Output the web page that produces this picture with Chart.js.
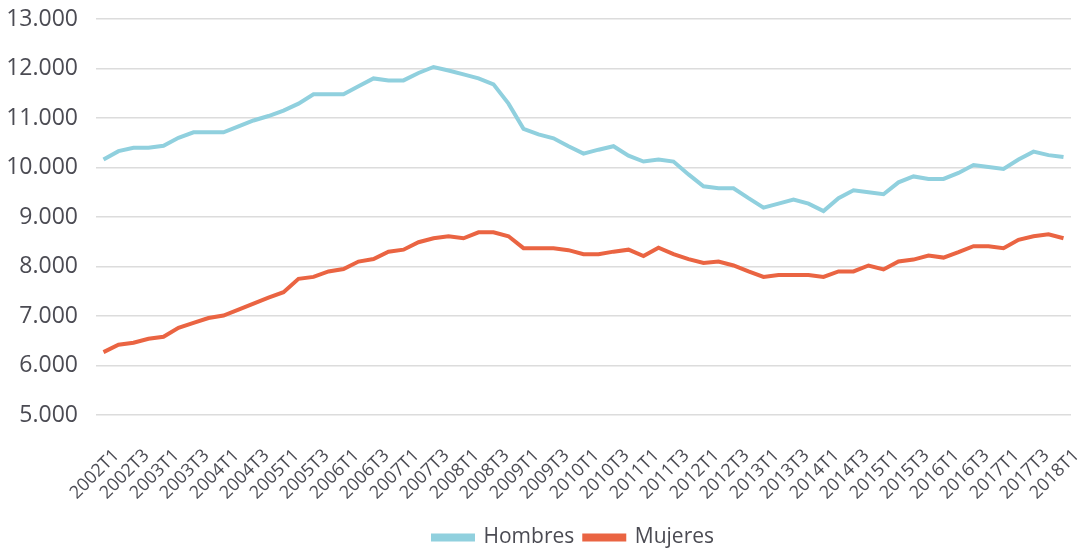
<!DOCTYPE html>
<html>
<head>
<meta charset="utf-8">
<script src="https://cdn.jsdelivr.net/npm/chart.js@4/dist/chart.umd.min.js"></script>
<style>
  html, body { margin: 0; padding: 0; background: #fff; overflow: hidden; }
  #wrap { width: 1085px; height: 558px; position: relative; }
</style>
</head>
<body>
<div id="wrap"><canvas id="lineChart"></canvas></div>
<script>
// Quarters 2002T1 .. 2018T1
const quarters = [];
for (let y = 2002; y <= 2018; y++) {
    for (let q = 1; q <= 4; q++) {
        if (y === 2018 && q > 1) break;
        quarters.push(y + "T" + q);
    }
}

const hombres = [
    10160, 10330, 10400, 10400, 10440, 10600, 10710, 10710, 10710, 10830,
    10950, 11040, 11150, 11290, 11480, 11480, 11480, 11640, 11800, 11760,
    11760, 11910, 12030, 11960, 11880, 11800, 11680, 11290, 10780, 10670,
    10590, 10430, 10280, 10360, 10430, 10240, 10120, 10160, 10120, 9860,
    9620, 9580, 9580, 9380, 9190, 9270, 9350, 9270, 9120, 9380,
    9540, 9500, 9460, 9700, 9820, 9770, 9770, 9890, 10050, 10010,
    9970, 10160, 10320, 10250, 10210
];

const mujeres = [
    6270, 6420, 6460, 6540, 6580, 6760, 6860, 6960, 7010, 7130,
    7250, 7370, 7480, 7750, 7790, 7900, 7950, 8100, 8150, 8300,
    8340, 8490, 8570, 8610, 8570, 8690, 8690, 8610, 8370, 8370,
    8370, 8330, 8250, 8250, 8300, 8340, 8210, 8380, 8250, 8150,
    8070, 8100, 8020, 7900, 7790, 7830, 7830, 7830, 7790, 7900,
    7900, 8020, 7940, 8100, 8140, 8220, 8180, 8290, 8410, 8410,
    8370, 8540, 8610, 8650, 8570
];

const colors = {
    hombres: '#90d0de',
    mujeres: '#ea6442',
    text: '#4b4b53',
    grid: '#dcdcdc'
};

const fontFamily = "'Open Sans', 'Noto Sans', sans-serif";

function fmtThousands(v) {
    return String(v).replace(/\B(?=(\d{3})+(?!\d))/g, '.');
}

// legend in the original sits a bit right of the canvas centre
const legendShift = {
    id: 'legendShift',
    afterLayout: function (chart) {
        if (chart.legend) chart.legend.left += 68;
    }
};

const ctx = document.getElementById('lineChart').getContext('2d');

new Chart(ctx, {
    type: 'line',
    data: {
        labels: quarters,
        datasets: [{
            label: 'Hombres',
            data: hombres,
            borderColor: colors.hombres,
            backgroundColor: colors.hombres,
            borderWidth: 4,
            pointRadius: 0,
            tension: 0
        }, {
            label: 'Mujeres',
            data: mujeres,
            borderColor: colors.mujeres,
            backgroundColor: colors.mujeres,
            borderWidth: 4,
            pointRadius: 0,
            tension: 0
        }]
    },
    plugins: [legendShift],
    options: {
        responsive: true,
        maintainAspectRatio: false,
        animation: false,
        layout: {
            padding: { left: 8, right: 14, top: 0, bottom: 0 }
        },
        plugins: {
            tooltip: { enabled: false },
            legend: {
                display: true,
                position: 'bottom',
                labels: {
                    color: colors.text,
                    font: { family: fontFamily, size: 21 },
                    boxWidth: 40,
                    boxHeight: 4,
                    padding: 10
                }
            }
        },
        scales: {
            x: {
                offset: true,
                grid: { display: false, drawTicks: false },
                border: { display: false },
                ticks: {
                    autoSkip: false,
                    maxRotation: 45,
                    minRotation: 45,
                    labelOffset: 13,
                    color: colors.text,
                    font: { family: fontFamily, size: 18 },
                    padding: 30,
                    callback: function (value, index) {
                        return index % 2 === 0 ? quarters[index] : '';
                    }
                },
                afterFit: function (scale) {
                    scale.height = 102;
                    scale.paddingLeft = 0;
                    scale.paddingRight = 0;
                }
            },
            y: {
                min: 5000,
                max: 13000,
                grid: {
                    color: colors.grid,
                    lineWidth: 1.5,
                    drawTicks: false
                },
                border: { display: false },
                ticks: {
                    stepSize: 1000,
                    color: colors.text,
                    font: { family: fontFamily, size: 23 },
                    padding: 18,
                    callback: function (value) {
                        return fmtThousands(value);
                    }
                },
                afterFit: function (scale) {
                    scale.paddingTop = 19;
                    scale.width = 88;
                }
            }
        }
    }
});
</script>
</body>
</html>
